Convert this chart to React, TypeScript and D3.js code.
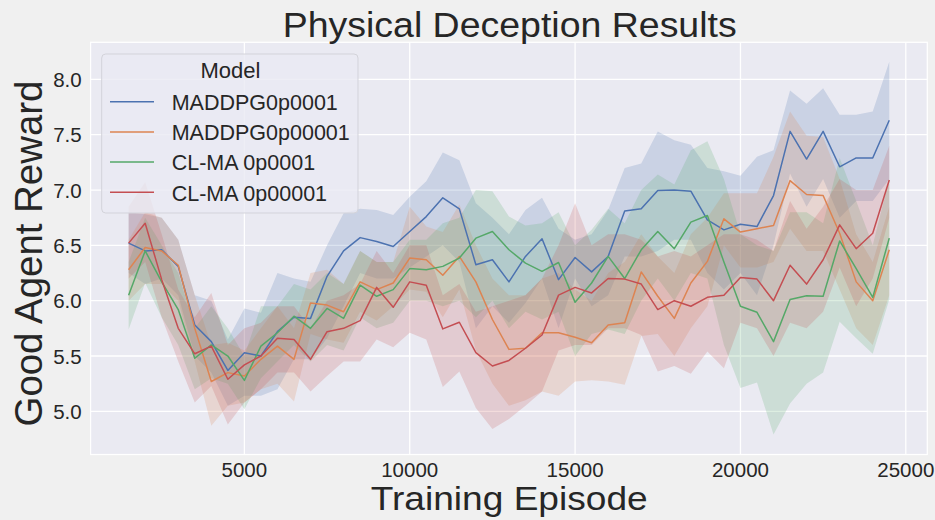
import React from "react";
import * as d3 from "d3";

const episodes = [1500, 2000, 2500, 3000, 3500, 4000, 4500, 5000, 5500, 6000, 6500, 7000, 7500, 8000, 8500, 9000, 9500, 10000, 10500, 11000, 11500, 12000, 12500, 13000, 13500, 14000, 14500, 15000, 15500, 16000, 16500, 17000, 17500, 18000, 18500, 19000, 19500, 20000, 20500, 21000, 21500, 22000, 22500, 23000, 23500, 24000, 24500];

const modelNames = ["MADDPG0p0001", "MADDPG0p00001", "CL-MA 0p0001", "CL-MA 0p00001"];
const modelColors = ["#4C72B0", "#DD8452", "#55A868", "#C44E52"];

const blueMean = [6.52, 6.45, 6.46, 6.31, 5.78, 5.63, 5.37, 5.53, 5.50, 5.72, 5.85, 5.84, 6.22, 6.45, 6.57, 6.535, 6.49, 6.625, 6.76, 6.93, 6.83, 6.325, 6.37, 6.17, 6.40, 6.56, 6.19, 6.39, 6.26, 6.40, 6.81, 6.83, 6.995, 7.0, 6.99, 6.73, 6.64, 6.69, 6.67, 6.95, 7.53, 7.28, 7.53, 7.21, 7.29, 7.29, 7.63];
const blueUpper = [6.8, 6.78, 6.75, 6.55, 6.05, 6.0, 5.65, 5.93, 5.89, 6.25, 6.2, 6.17, 6.5, 6.79, 6.83, 6.82, 6.775, 6.94, 7.08, 7.34, 7.27, 6.88, 6.75, 6.6, 6.82, 6.93, 6.65, 6.55, 6.6, 6.82, 7.2, 7.24, 7.53, 7.45, 7.41, 7.2, 7.17, 7.13, 7.3, 7.36, 7.9, 7.78, 7.92, 7.68, 7.68, 7.71, 8.16];
const blueLower = [6.25, 6.15, 6.2, 6.05, 5.5, 5.35, 5.05, 5.14, 5.14, 5.2, 5.47, 5.47, 5.66, 5.95, 6.25, 6.2, 6.2, 6.3, 6.4, 6.5, 6.35, 5.75, 5.95, 5.8, 5.98, 6.2, 5.75, 6.2, 5.95, 6.05, 6.4, 6.4, 6.45, 6.55, 6.55, 6.25, 6.1, 6.25, 6.05, 6.5, 7.15, 6.85, 7.1, 6.75, 6.9, 6.9, 7.1];

const orangeMean = [6.28, 6.48, 6.45, 6.32, 5.75, 5.27, 5.35, 5.32, 5.47, 5.59, 5.47, 5.98, 5.96, 5.90, 6.17, 6.10, 6.16, 6.385, 6.37, 6.23, 6.40, 6.17, 5.83, 5.56, 5.57, 5.71, 5.71, 5.67, 5.62, 5.78, 5.80, 6.26, 6.04, 5.84, 6.16, 6.355, 6.74, 6.62, 6.65, 6.68, 7.085, 6.96, 6.95, 6.61, 6.17, 6.00, 6.46];
const orangeUpper = [6.55, 6.8, 6.75, 6.55, 6.05, 5.6, 5.62, 5.55, 5.75, 5.95, 5.75, 6.25, 6.28, 6.15, 6.45, 6.35, 6.35, 6.85, 6.67, 6.62, 6.87, 6.5, 6.2, 6.05, 6.05, 6.2, 6.25, 6.1, 6.0, 6.25, 6.35, 6.6, 6.4, 6.25, 6.6, 6.75, 6.97, 6.97, 6.97, 7.3, 7.71, 7.49, 7.48, 7.1, 6.6, 6.35, 6.85];
const orangeLower = [6.0, 6.15, 6.15, 6.0, 5.45, 4.87, 5.05, 5.08, 5.2, 5.25, 5.09, 5.7, 5.65, 5.62, 5.9, 5.82, 5.95, 6.1, 6.08, 5.85, 6.1, 5.55, 5.25, 5.05, 5.1, 5.18, 5.14, 5.27, 5.28, 5.27, 5.24, 5.68, 5.7, 5.5, 5.75, 5.95, 6.5, 6.3, 6.3, 6.35, 6.65, 6.45, 6.45, 6.1, 5.75, 5.6, 6.05];

const greenMean = [6.05, 6.45, 6.17, 5.92, 5.48, 5.60, 5.50, 5.28, 5.59, 5.71, 5.86, 5.75, 5.93, 5.84, 6.14, 6.04, 6.10, 6.29, 6.28, 6.31, 6.385, 6.565, 6.625, 6.46, 6.34, 6.265, 6.345, 5.985, 6.16, 6.40, 6.20, 6.46, 6.625, 6.47, 6.71, 6.77, 6.35, 5.95, 5.895, 5.63, 6.01, 6.045, 6.04, 6.54, 6.29, 6.03, 6.565];
const greenUpper = [6.35, 6.75, 6.5, 6.25, 5.75, 5.95, 5.75, 5.5, 5.95, 5.95, 6.15, 6.1, 6.25, 6.15, 6.45, 6.35, 6.35, 6.55, 6.55, 6.7, 6.75, 7.0, 6.99, 6.76, 6.68, 6.70, 6.8, 6.5, 6.64, 6.83, 6.7, 7.0, 7.14, 7.05, 7.36, 7.44, 7.1, 6.6, 6.5, 6.45, 6.8, 6.8, 6.7, 7.29, 6.9, 6.5, 7.1];
const greenLower = [5.74, 6.16, 5.85, 5.6, 5.2, 5.3, 5.25, 5.02, 5.3, 5.45, 5.6, 5.45, 5.6, 5.55, 5.85, 5.75, 5.8, 6.0, 6.0, 5.95, 6.0, 5.85, 6.0, 5.75, 5.9, 5.83, 5.9, 5.5, 5.7, 5.74, 5.7, 6.0, 6.2, 6.0, 6.25, 6.2, 5.6, 5.21, 5.26, 4.79, 5.07, 5.25, 5.35, 5.81, 5.66, 5.52, 6.01];

const redMean = [6.52, 6.70, 6.19, 5.75, 5.52, 5.59, 5.29, 5.42, 5.50, 5.66, 5.65, 5.47, 5.72, 5.75, 5.82, 6.12, 5.94, 6.17, 6.14, 5.745, 5.805, 5.53, 5.41, 5.46, 5.57, 5.69, 6.05, 6.12, 6.07, 6.20, 6.195, 6.15, 5.92, 6.0, 5.95, 6.03, 6.05, 6.21, 6.195, 6.0, 6.32, 6.15, 6.37, 6.685, 6.47, 6.61, 7.09];
const redUpper = [6.85, 7.07, 6.6, 6.1, 5.85, 6.07, 5.6, 5.75, 5.8, 5.95, 5.95, 5.75, 6.0, 6.05, 6.15, 6.45, 6.25, 6.5, 6.5, 6.05, 6.15, 5.9, 5.95, 6.0, 6.05, 6.2, 6.5, 6.88, 6.5, 6.6, 6.6, 6.55, 6.4, 6.45, 6.4, 6.5, 6.6, 6.6, 6.55, 6.45, 6.9, 6.65, 6.85, 7.1, 7.0, 7.0, 7.4];
const redLower = [6.2, 6.35, 5.85, 5.45, 5.08, 5.23, 4.88, 5.08, 5.2, 5.35, 5.35, 5.18, 5.32, 5.45, 5.45, 5.65, 5.58, 5.71, 5.65, 5.22, 5.36, 5.03, 4.84, 4.93, 5.05, 5.18, 5.55, 5.6, 5.6, 5.75, 5.75, 5.69, 5.36, 5.41, 5.34, 5.54, 5.39, 5.8, 5.75, 5.5, 5.8, 5.75, 5.9, 6.3, 5.95, 6.2, 6.75];

const xTicks = [5000, 10000, 15000, 20000, 25000];
const yTicks = [5.0, 5.5, 6.0, 6.5, 7.0, 7.5, 8.0];

const means = [blueMean, orangeMean, greenMean, redMean];
const uppers = [blueUpper, orangeUpper, greenUpper, redUpper];
const lowers = [blueLower, orangeLower, greenLower, redLower];

const W = 935;
const H = 520;
const FONT = "'Liberation Sans', Arial, Helvetica, sans-serif";
const TXT = "#262626";

export default function App() {
  const x = d3.scaleLinear().domain([350, 25650]).range([90.6, 927.3]);
  const y = d3.scaleLinear().domain([4.61, 8.335]).range([454.5, 42.3]);
  const [x0, x1] = x.range();
  const [yb, yt] = y.range();

  const line = d3
    .line<number>()
    .x((_, i) => x(episodes[i]))
    .y((d) => y(d));

  return (
    <div style={{ position: "fixed", left: 0, top: 0, width: W, height: H, background: "#F0F0F0" }}>
      <svg width={W} height={H} viewBox={`0 0 ${W} ${H}`} style={{ display: "block" }}>
        <rect x={0} y={0} width={W} height={H} fill="#F0F0F0" />
        <rect x={x0} y={yt} width={x1 - x0} height={yb - yt} fill="#EAEAF2" />
        {xTicks.map((t) => (
          <line key={"gx" + t} x1={x(t)} x2={x(t)} y1={yt} y2={yb} stroke="#FFFFFF" strokeWidth={1.3} />
        ))}
        {yTicks.map((t) => (
          <line key={"gy" + t} x1={x0} x2={x1} y1={y(t)} y2={y(t)} stroke="#FFFFFF" strokeWidth={1.3} />
        ))}
        <defs>
          <clipPath id="plotclip">
            <rect x={x0} y={yt} width={x1 - x0} height={yb - yt} />
          </clipPath>
        </defs>
        <g clipPath="url(#plotclip)">
          {means.map((_, s) => {
            const area = d3
              .area<number>()
              .x((_, i) => x(episodes[i]))
              .y0((_, i) => y(lowers[s][i]))
              .y1((d) => y(d));
            return (
              <path
                key={"band" + s}
                d={area(uppers[s]) || ""}
                fill={modelColors[s]}
                fillOpacity={0.2}
                stroke="none"
              />
            );
          })}
          {means.map((m, s) => (
            <path
              key={"line" + s}
              d={line(m) || ""}
              fill="none"
              stroke={modelColors[s]}
              strokeWidth={1.5}
              strokeLinejoin="round"
            />
          ))}
        </g>
        <rect x={x0} y={yt} width={x1 - x0} height={yb - yt} fill="none" stroke="#FFFFFF" strokeWidth={1.25} />

        {xTicks.map((t) => (
          <text key={"tx" + t} x={x(t)} y={476.7} textAnchor="middle" fontFamily={FONT} fontSize={20.5} fill={TXT}>
            {String(t)}
          </text>
        ))}
        {yTicks.map((t) => (
          <text key={"ty" + t} x={81.7} y={y(t) + 7.6} textAnchor="end" fontFamily={FONT} fontSize={20.5} fill={TXT}>
            {t.toFixed(1)}
          </text>
        ))}

        <text x={509.7} y={36.7} textAnchor="middle" fontFamily={FONT} fontSize={35.5} fill={TXT} textLength={454} lengthAdjust="spacingAndGlyphs">
          Physical Deception Results
        </text>
        <text x={509.2} y={510} textAnchor="middle" fontFamily={FONT} fontSize={34} fill={TXT} textLength={277} lengthAdjust="spacingAndGlyphs">
          Training Episode
        </text>
        <text
          transform={`translate(41.7, 253.5) rotate(-90)`}
          x={0}
          y={0}
          textAnchor="middle"
          fontFamily={FONT}
          fontSize={38}
          fill={TXT}
          textLength={346}
          lengthAdjust="spacingAndGlyphs"
        >
          Good Agent Reward
        </text>

        <g>
          <rect x={101.7} y={54} width={256.3} height={159} rx={4} ry={4} fill="#EAEAF2" fillOpacity={0.8} stroke="#D3D3DA" strokeWidth={1} />
          <text x={230.5} y={78.3} textAnchor="middle" fontFamily={FONT} fontSize={22} fill={TXT}>
            Model
          </text>
          {modelNames.map((name, s) => {
            const ly = 101.7 + s * 30.2;
            return (
              <g key={"leg" + s}>
                <line x1={110} x2={154} y1={ly} y2={ly} stroke={modelColors[s]} strokeWidth={1.5} />
                <text x={171.7} y={ly + 8.3} fontFamily={FONT} fontSize={21.5} fill={TXT}>
                  {name}
                </text>
              </g>
            );
          })}
        </g>
      </svg>
    </div>
  );
}
